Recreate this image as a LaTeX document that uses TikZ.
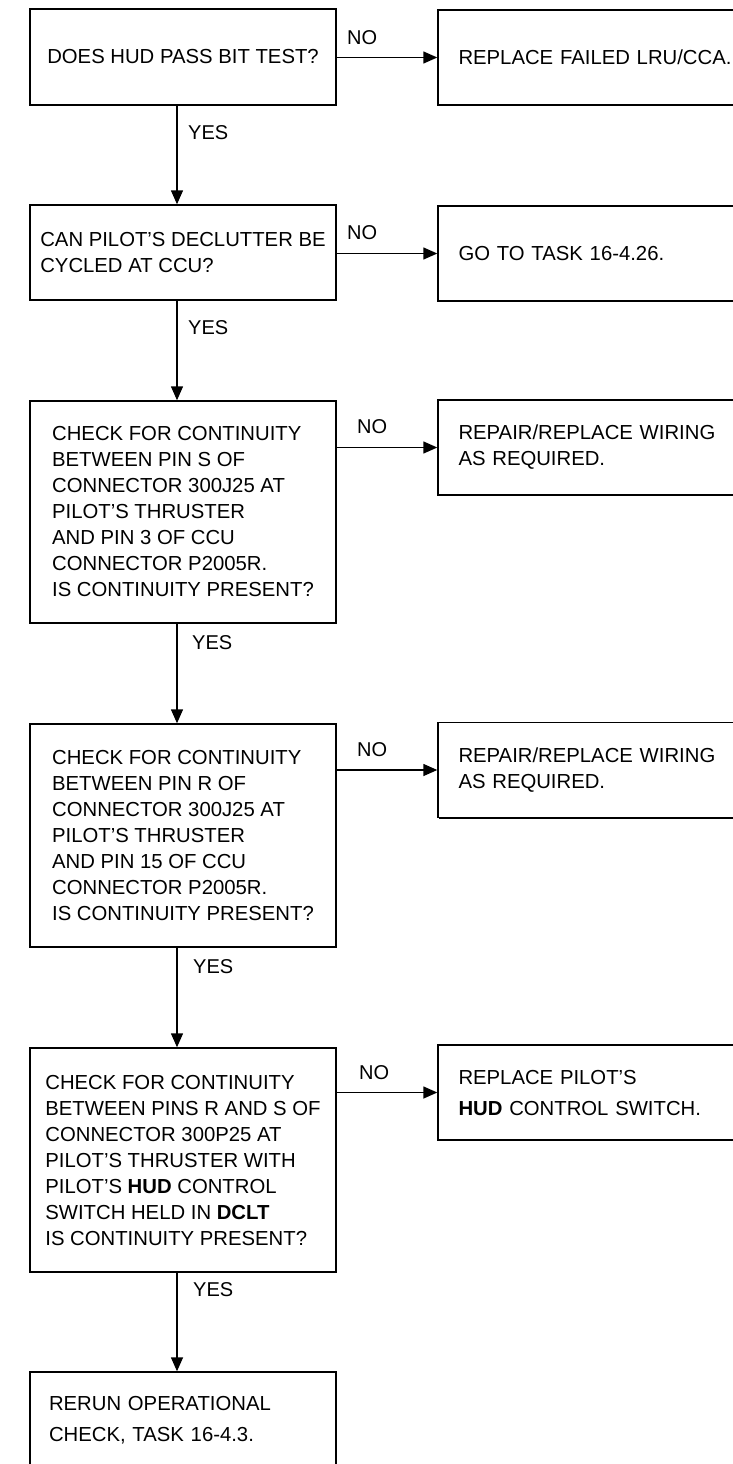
\documentclass[tikz,border=0pt]{standalone}
\usepackage{fontspec}
\setmainfont{Liberation Sans}
\usetikzlibrary{arrows.meta,shadows}

\tikzset{
  qbox/.style={draw, line width=1.4pt, fill=white, inner xsep=0pt, inner ysep=0pt,
    minimum width=306pt, align=left, font=\fontsize{20.3}{26}\selectfont,
    general shadow={fill=black, shadow xshift=1.3pt, shadow yshift=-1.3pt}},
  abox/.style={qbox, minimum width=326pt, minimum height=95pt, text width=285pt},
  flow/.style={line width=1.4pt, -{Triangle[length=14pt,width=12pt]}},
  tag/.style={inner sep=0pt, anchor=west, font=\fontsize{20}{24}\selectfont}
}

\begin{document}
\begin{tikzpicture}[x=1pt, y=1pt]
\useasboundingbox (0,0) rectangle (733,-1464);

% Question boxes (left column)
\node[qbox, minimum height=96] (q1) at (183,-57) {DOES HUD PASS BIT TEST?};
\node[qbox, minimum height=95] (q2) at (183,-252.5) {CAN PILOT'S DECLUTTER BE\\CYCLED AT CCU?};
\node[qbox, minimum height=222] (q3) at (183,-512) {CHECK FOR CONTINUITY\\BETWEEN PIN S OF\\CONNECTOR 300J25 AT\\PILOT'S THRUSTER\\AND PIN 3 OF CCU\\CONNECTOR P2005R.\\IS CONTINUITY PRESENT?};
\node[qbox, minimum height=223] (q4) at (183,-835.5) {CHECK FOR CONTINUITY\\BETWEEN PIN R OF\\CONNECTOR 300J25 AT\\PILOT'S THRUSTER\\AND PIN 15 OF CCU\\CONNECTOR P2005R.\\IS CONTINUITY PRESENT?};
\node[qbox, minimum height=224] (q5) at (183,-1160) {CHECK FOR CONTINUITY\\BETWEEN PINS R AND S OF\\CONNECTOR 300P25 AT\\PILOT'S THRUSTER WITH\\PILOT'S \textbf{HUD} CONTROL\\SWITCH HELD IN \textbf{DCLT}\\IS CONTINUITY PRESENT?};
\node[qbox, minimum height=96, text width=268] (q6) at (183,-1420) {RERUN OPERATIONAL\\[5pt]CHECK, TASK 16-4.3.};

% Action boxes (right column, run off the page edge)
\node[abox] (a1) at (601,-57.5) {REPLACE FAILED LRU/CCA.};
\node[abox] (a2) at (601,-253.5) {GO TO TASK 16-4.26.};
\node[abox] (a3) at (601,-447.5) {REPAIR/REPLACE WIRING\\AS REQUIRED.};
\node[abox] (a4) at (601,-770) {REPAIR/REPLACE WIRING\\AS REQUIRED.};
\node[abox] (a5) at (601,-1092.5) {REPLACE PILOT'S\\[5pt]\textbf{HUD} CONTROL SWITCH.};

% YES branches
\draw[flow] ([xshift=-6pt]q1.south) -- ([xshift=-6pt]q2.north);
\draw[flow] ([xshift=-6pt]q2.south) -- ([xshift=-6pt]q3.north);
\draw[flow] ([xshift=-6pt]q3.south) -- ([xshift=-6pt]q4.north);
\draw[flow] ([xshift=-6pt]q4.south) -- ([xshift=-6pt]q5.north);
\draw[flow] ([xshift=-6pt]q5.south) -- ([xshift=-6pt]q6.north);

% NO branches
\draw[flow] (q1.east |- a1.west) -- (a1.west);
\draw[flow] (q2.east |- a2.west) -- (a2.west);
\draw[flow] (q3.east |- a3.west) -- (a3.west);
\draw[flow] (q4.east |- a4.west) -- (a4.west);
\draw[flow] (q5.east |- a5.west) -- (a5.west);

% Branch labels
\node[tag] (y1) at (188,-133) {YES};
\node[tag] (y2) at (188,-328) {YES};
\node[tag] (y3) at (192,-643) {YES};
\node[tag] (y4) at (193,-967) {YES};
\node[tag] (y5) at (193,-1290) {YES};
\node[tag] (n1) at (347,-38) {NO};
\node[tag] (n2) at (347,-233) {NO};
\node[tag] (n3) at (357,-427) {NO};
\node[tag] (n4) at (357,-750) {NO};
\node[tag] (n5) at (359,-1073) {NO};
\end{tikzpicture}
\end{document}
